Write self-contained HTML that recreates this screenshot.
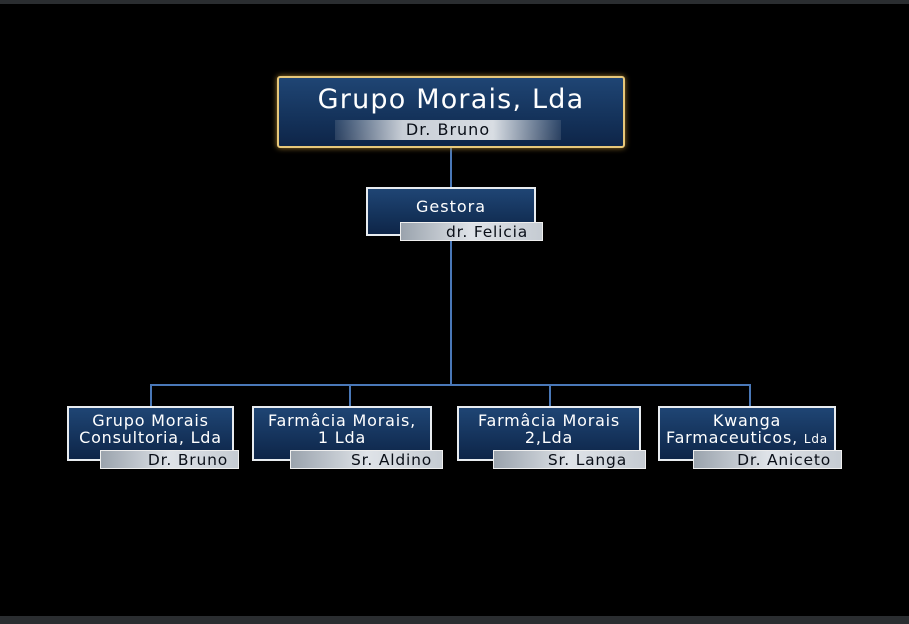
<!DOCTYPE html>
<html><head><style>
body{margin:0;width:909px;height:624px;background:#000;position:relative;overflow:hidden;font-family:"DejaVu Sans","Liberation Sans",sans-serif;}
.bar{position:absolute;left:0;width:909px;background:#2a2d30}
.box{position:absolute;box-sizing:border-box;border:2px solid #e8ecf0;background:linear-gradient(180deg,#1f4574,#14325a 60%,#0e2548);color:#fff;text-align:center;font-size:16px;line-height:17px;letter-spacing:0.8px;white-space:nowrap}
.lab{position:absolute;box-sizing:border-box;background:linear-gradient(90deg,#9aa3ad,#dfe3e8 50%,#c5cbd2);color:#0a0f18;font-size:15.5px;letter-spacing:0.8px;text-align:right;padding-right:10px;line-height:18px;border:1px solid #eee;white-space:nowrap}
.l{position:absolute;background:#4a78b8}
</style></head><body>
<div class="bar" style="top:0;height:4px"></div>
<div class="bar" style="top:616px;height:8px"></div>
<div class="l" style="left:450px;top:148px;width:2px;height:40px"></div>
<div class="l" style="left:450px;top:236px;width:2px;height:150px"></div>
<div class="l" style="left:150px;top:384px;width:601px;height:2px"></div>
<div class="l" style="left:150px;top:384px;width:2px;height:23px"></div>
<div class="l" style="left:349px;top:384px;width:2px;height:23px"></div>
<div class="l" style="left:549px;top:384px;width:2px;height:23px"></div>
<div class="l" style="left:749px;top:384px;width:2px;height:23px"></div>

<div class="box" style="left:277px;top:76px;width:348px;height:72px;border:2px solid #e8c87a;border-radius:3px;box-shadow:0 0 6px #a07a30">
<div style="font-size:27px;letter-spacing:1.2px;line-height:30px;margin-top:7px">Grupo Morais, Lda</div>
<div style="position:absolute;left:56px;top:42px;width:226px;height:20px;background:linear-gradient(90deg,rgba(150,160,175,0.2),#c8ced6 30%,#d8dde3 70%,rgba(150,160,175,0.2));color:#0a0f18;font-size:16px;letter-spacing:1px;line-height:20px">Dr. Bruno</div>
</div>

<div class="box" style="left:366px;top:187px;width:170px;height:49px"><div style="margin-top:9px;letter-spacing:1px">Gestora</div></div>
<div class="lab" style="left:400px;top:222px;width:143px;height:19px;padding-right:14px">dr. Felicia</div>

<div class="box" style="left:67px;top:406px;width:167px;height:55px"><div style="margin-top:4px">Grupo Morais<br>Consultoria, Lda</div></div>
<div class="lab" style="left:100px;top:450px;width:139px;height:19px">Dr. Bruno</div>

<div class="box" style="left:252px;top:406px;width:180px;height:55px"><div style="margin-top:4px">Farmâcia Morais,<br>1 Lda</div></div>
<div class="lab" style="left:290px;top:450px;width:153px;height:19px">Sr. Aldino</div>

<div class="box" style="left:457px;top:406px;width:184px;height:55px"><div style="margin-top:4px">Farmâcia Morais<br>2,Lda</div></div>
<div class="lab" style="left:493px;top:450px;width:153px;height:19px;padding-right:18px">Sr. Langa</div>

<div class="box" style="left:658px;top:406px;width:178px;height:55px"><div style="margin-top:4px">Kwanga<br>Farmaceuticos, <span style="font-size:12px">Lda</span></div></div>
<div class="lab" style="left:693px;top:450px;width:149px;height:19px">Dr. Aniceto</div>
</body></html>
